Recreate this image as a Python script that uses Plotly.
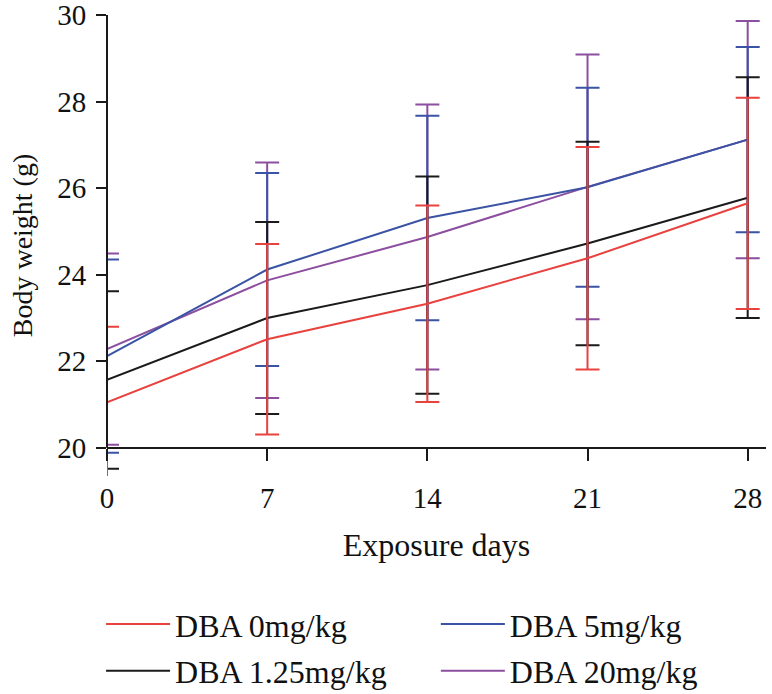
import plotly.graph_objects as go

days = [0, 7, 14, 21, 28]
day_labels = ["0", "7", "14", "21", "28"]

series_names = ["DBA 0mg/kg", "DBA 1.25mg/kg", "DBA 5mg/kg", "DBA 20mg/kg"]
red_mean = [21.05, 22.51, 23.33, 24.38, 25.65]
red_sd = [1.75, 2.20, 2.27, 2.57, 2.44]
black_mean = [21.57, 23.00, 23.76, 24.72, 25.78]
black_sd = [2.05, 2.22, 2.51, 2.35, 2.78]
blue_mean = [22.12, 24.12, 25.31, 26.02, 27.12]
blue_sd = [2.23, 2.23, 2.36, 2.30, 2.14]
purple_mean = [22.28, 23.87, 24.87, 26.03, 27.12]
purple_sd = [2.21, 2.72, 3.06, 3.06, 2.74]

y_ticks = [20, 22, 24, 26, 28, 30]
y_axis_min, y_axis_max = 20, 30   # where the drawn axes sit
y_view_min = 19.35                 # room for error bars dipping below the x-axis

RED = "#E8423F"
BLACK = "#1A1A1A"
BLUE = "#3A53A4"
PURPLE = "#8C4E9F"

FONT = "Liberation Serif"
FS_TICK = 29
FS_YTITLE = 28
FS_XTITLE = 32
FS_LEG = 32

fig = go.Figure()

# draw order: purple, blue, black, red (red on top)
specs = [
    (series_names[3], purple_mean, purple_sd, PURPLE, "legend2", 2),
    (series_names[2], blue_mean, blue_sd, BLUE, "legend2", 1),
    (series_names[1], black_mean, black_sd, BLACK, "legend", 2),
    (series_names[0], red_mean, red_sd, RED, "legend", 1),
]
for name, mean, sd, color, leg, rank in specs:
    fig.add_trace(go.Scatter(
        x=days, y=mean, name=name, mode="lines",
        line=dict(color=color, width=2),
        error_y=dict(type="data", array=sd, visible=True, color=color,
                     thickness=2, width=12),
        legend=leg, legendrank=rank, legendgroup=name,
    ))

# y-axis line from 20 to 30 only
fig.add_shape(type="line", xref="x domain", yref="y", x0=0, x1=0,
              y0=y_axis_min, y1=y_axis_max, line=dict(color=BLACK, width=2))

xpos = (y_axis_min - y_view_min) / (y_axis_max - y_view_min)

fig.update_layout(
    width=772, height=694,
    margin=dict(l=107, r=6, t=15, b=218, autoexpand=False),
    paper_bgcolor="white", plot_bgcolor="white",
    font=dict(family=FONT, size=FS_TICK, color="#111111"),
    showlegend=True,
    legend=dict(x=-0.009, y=-0.262, xanchor="left", yanchor="top",
                orientation="v", font=dict(size=FS_LEG, family=FONT),
                bgcolor="rgba(0,0,0,0)", itemwidth=64,
                traceorder="grouped", tracegroupgap=2),
    legend2=dict(x=0.499, y=-0.262, xanchor="left", yanchor="top",
                 orientation="v", font=dict(size=FS_LEG, family=FONT),
                 bgcolor="rgba(0,0,0,0)", itemwidth=64,
                 traceorder="grouped", tracegroupgap=2),
    xaxis=dict(range=[0, 28.8], tickmode="array", tickvals=days, ticktext=day_labels,
               anchor="free", position=xpos, automargin=False,
               showline=True, linecolor=BLACK, linewidth=2,
               ticks="outside", ticklen=12, tickwidth=2, tickcolor=BLACK,
               ticklabelstandoff=12, ticklabeloverflow="allow",
               showgrid=False, zeroline=False,
               tickfont=dict(size=FS_TICK, family=FONT),
               title=dict(text="Exposure days", font=dict(size=FS_XTITLE, family=FONT), standoff=20)),
    yaxis=dict(range=[y_view_min, y_axis_max], tickmode="array", tickvals=y_ticks,
               automargin=False, showline=False,
               ticks="outside", ticklen=10, tickwidth=2, tickcolor=BLACK,
               ticklabelstandoff=4,
               showgrid=False, zeroline=False, ticklabeloverflow="allow",
               tickfont=dict(size=FS_TICK, family=FONT),
               title=dict(text="Body weight (g)", font=dict(size=FS_YTITLE, family=FONT), standoff=16)),
)

fig.write_html("out.html", config={"displayModeBar": False},
               post_script="document.body.style.margin='0';")
